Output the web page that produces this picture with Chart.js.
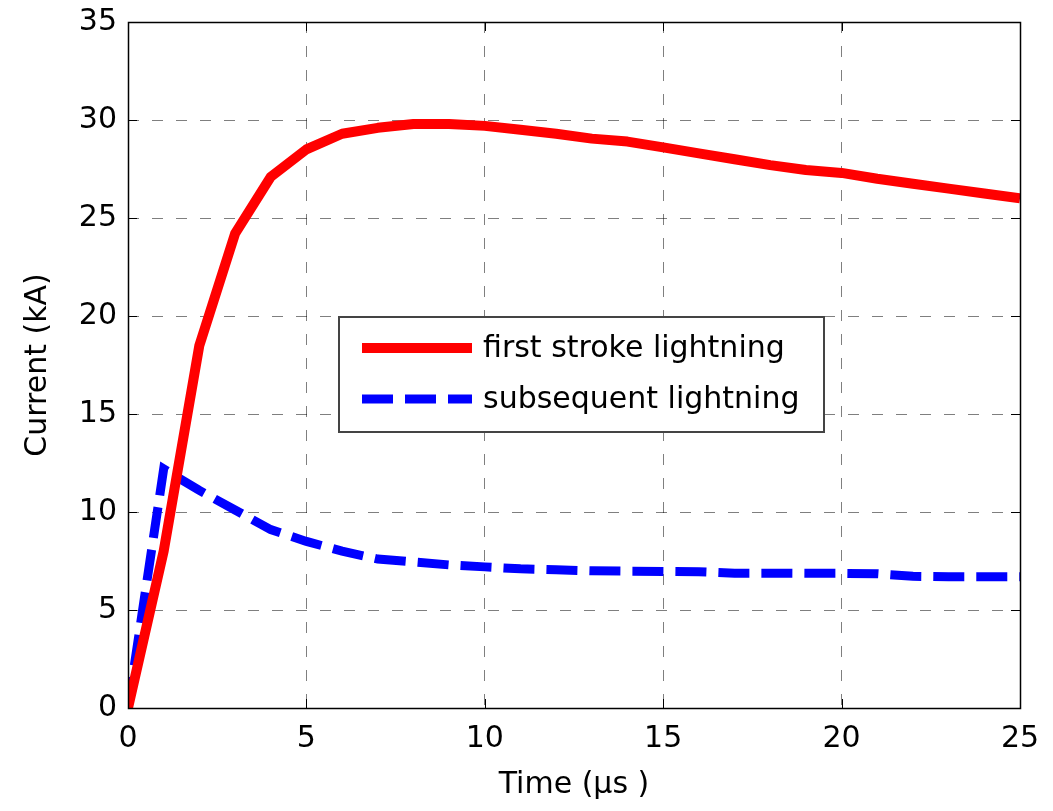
<!DOCTYPE html>
<html>
<head>
<meta charset="utf-8">
<script src="https://cdn.jsdelivr.net/npm/chart.js@4.4.1/dist/chart.umd.min.js"></script>
<style>
  html, body { margin: 0; padding: 0; background: #fff; }
  #wrap { width: 1053px; height: 811px; position: relative; }
</style>
</head>
<body>
<div id="wrap"><canvas id="c"></canvas></div>
<script>
// time axis (µs), one sample per microsecond
const times = [0, 1, 2, 3, 4, 5, 6, 7, 8, 9, 10, 11, 12, 13, 14, 15, 16, 17, 18, 19, 20, 21, 22, 23, 24, 25];
const firstStroke = [0, 8.0, 18.5, 24.2, 27.1, 28.5, 29.3, 29.6, 29.8, 29.8, 29.7, 29.5, 29.3, 29.05, 28.9, 28.6, 28.3, 28.0, 27.7, 27.45, 27.3, 27.0, 26.75, 26.5, 26.25, 26.0];
const subsequent = [0, 12.2, 11.1, 10.1, 9.1, 8.5, 8.0, 7.6, 7.45, 7.3, 7.2, 7.1, 7.05, 7.0, 6.98, 6.97, 6.95, 6.88, 6.88, 6.87, 6.87, 6.85, 6.72, 6.7, 6.7, 6.7];
const xTicks = [0, 5, 10, 15, 20, 25];
const yTicks = [0, 5, 10, 15, 20, 25, 30, 35];
const labels = ["first stroke lightning", "subsequent lightning"];

const FONT = "'DejaVu Sans', sans-serif";
const GRID = "rgba(0,0,0,0.5)";

const toXY = (ys) => times.map((t, i) => ({ x: t, y: ys[i] }));

// frame, inner ticks and the in-plot legend (matlab style)
const matlabBox = {
  id: "matlabBox",
  afterDatasetsDraw(chart) {
    const { ctx, chartArea: a, scales } = chart;
    ctx.save();
    ctx.strokeStyle = "#000";
    ctx.lineWidth = 1;
    ctx.setLineDash([]);
    ctx.beginPath();
    for (const v of xTicks) {
      const x = Math.round(scales.x.getPixelForValue(v)) + 0.5;
      ctx.moveTo(x, a.bottom); ctx.lineTo(x, a.bottom - 9);
      ctx.moveTo(x, a.top); ctx.lineTo(x, a.top + 9);
    }
    for (const v of yTicks) {
      const y = Math.round(scales.y.getPixelForValue(v)) + 0.5;
      ctx.moveTo(a.left, y); ctx.lineTo(a.left + 9, y);
      ctx.moveTo(a.right, y); ctx.lineTo(a.right - 9, y);
    }
    ctx.stroke();
    ctx.lineWidth = 1.5;
    ctx.strokeRect(Math.round(a.left) + 0.5, Math.round(a.top) + 0.5,
      Math.round(a.right - a.left), Math.round(a.bottom - a.top));

    // legend
    const bx = a.left + 211, by = a.top + 295, bw = 485, bh = 115;
    ctx.fillStyle = "#fff";
    ctx.fillRect(bx, by, bw, bh);
    ctx.strokeStyle = "#444";
    ctx.lineWidth = 2;
    ctx.strokeRect(bx, by, bw, bh);
    chart.data.datasets.forEach((ds, i) => {
      const ly = by + 31 + i * 51;
      ctx.save();
      ctx.strokeStyle = ds.borderColor;
      ctx.lineWidth = ds.borderWidth;
      ctx.setLineDash(ds.borderDash || []);
      ctx.beginPath();
      ctx.moveTo(bx + 23, ly);
      ctx.lineTo(bx + 133, ly);
      ctx.stroke();
      ctx.restore();
      ctx.fillStyle = "#000";
      ctx.font = "30px " + FONT;
      ctx.textBaseline = "middle";
      ctx.fillText(ds.label, bx + 144, ly + 1);
    });
    ctx.restore();
  },
};

new Chart(document.getElementById("c"), {
  type: "line",
  data: {
    datasets: [
      {
        label: labels[0],
        data: toXY(firstStroke),
        borderColor: "#ff0000",
        borderWidth: 10,
        pointRadius: 0,
        tension: 0,
        borderJoinStyle: "round",
        clip: 0,
      },
      {
        label: labels[1],
        data: toXY(subsequent),
        borderColor: "#0000ff",
        borderWidth: 9,
        borderDash: [31, 12],
        pointRadius: 0,
        tension: 0,
        clip: 0,
      },
    ],
  },
  options: {
    responsive: true,
    maintainAspectRatio: false,
    animation: false,
    events: [],
    layout: { padding: { top: 22, right: 33, left: 0, bottom: 0 } },
    plugins: { legend: { display: false }, tooltip: { enabled: false } },
    scales: {
      x: {
        type: "linear",
        min: 0, max: 25,
        afterBuildTicks: (s) => { s.ticks = xTicks.map((v) => ({ value: v })); },
        afterFit: (s) => { s.height = 103; s.paddingLeft = 0; s.paddingRight = 0; },
        ticks: { color: "#000", font: { family: FONT, size: 30 }, padding: 13, maxRotation: 0 },
        grid: { color: GRID, lineWidth: 1, drawTicks: false },
        border: { display: false, dash: [11, 13] },
        title: { display: true, text: "Time (μs )", color: "#000", font: { family: FONT, size: 30 }, padding: { top: 0, bottom: 8 } },
      },
      y: {
        type: "linear",
        min: 0, max: 35,
        afterBuildTicks: (s) => { s.ticks = yTicks.map((v) => ({ value: v })); },
        afterFit: (s) => { s.width = 128; s.paddingTop = 0; s.paddingBottom = 0; },
        ticks: { color: "#000", font: { family: FONT, size: 30 }, padding: 11 },
        grid: { color: GRID, lineWidth: 1, drawTicks: false },
        border: { display: false, dash: [11, 13] },
        title: { display: true, text: "Current (kA)", color: "#000", font: { family: FONT, size: 30 }, padding: { top: 20, bottom: 0 } },
      },
    },
  },
  plugins: [matlabBox],
});
</script>
</body>
</html>
